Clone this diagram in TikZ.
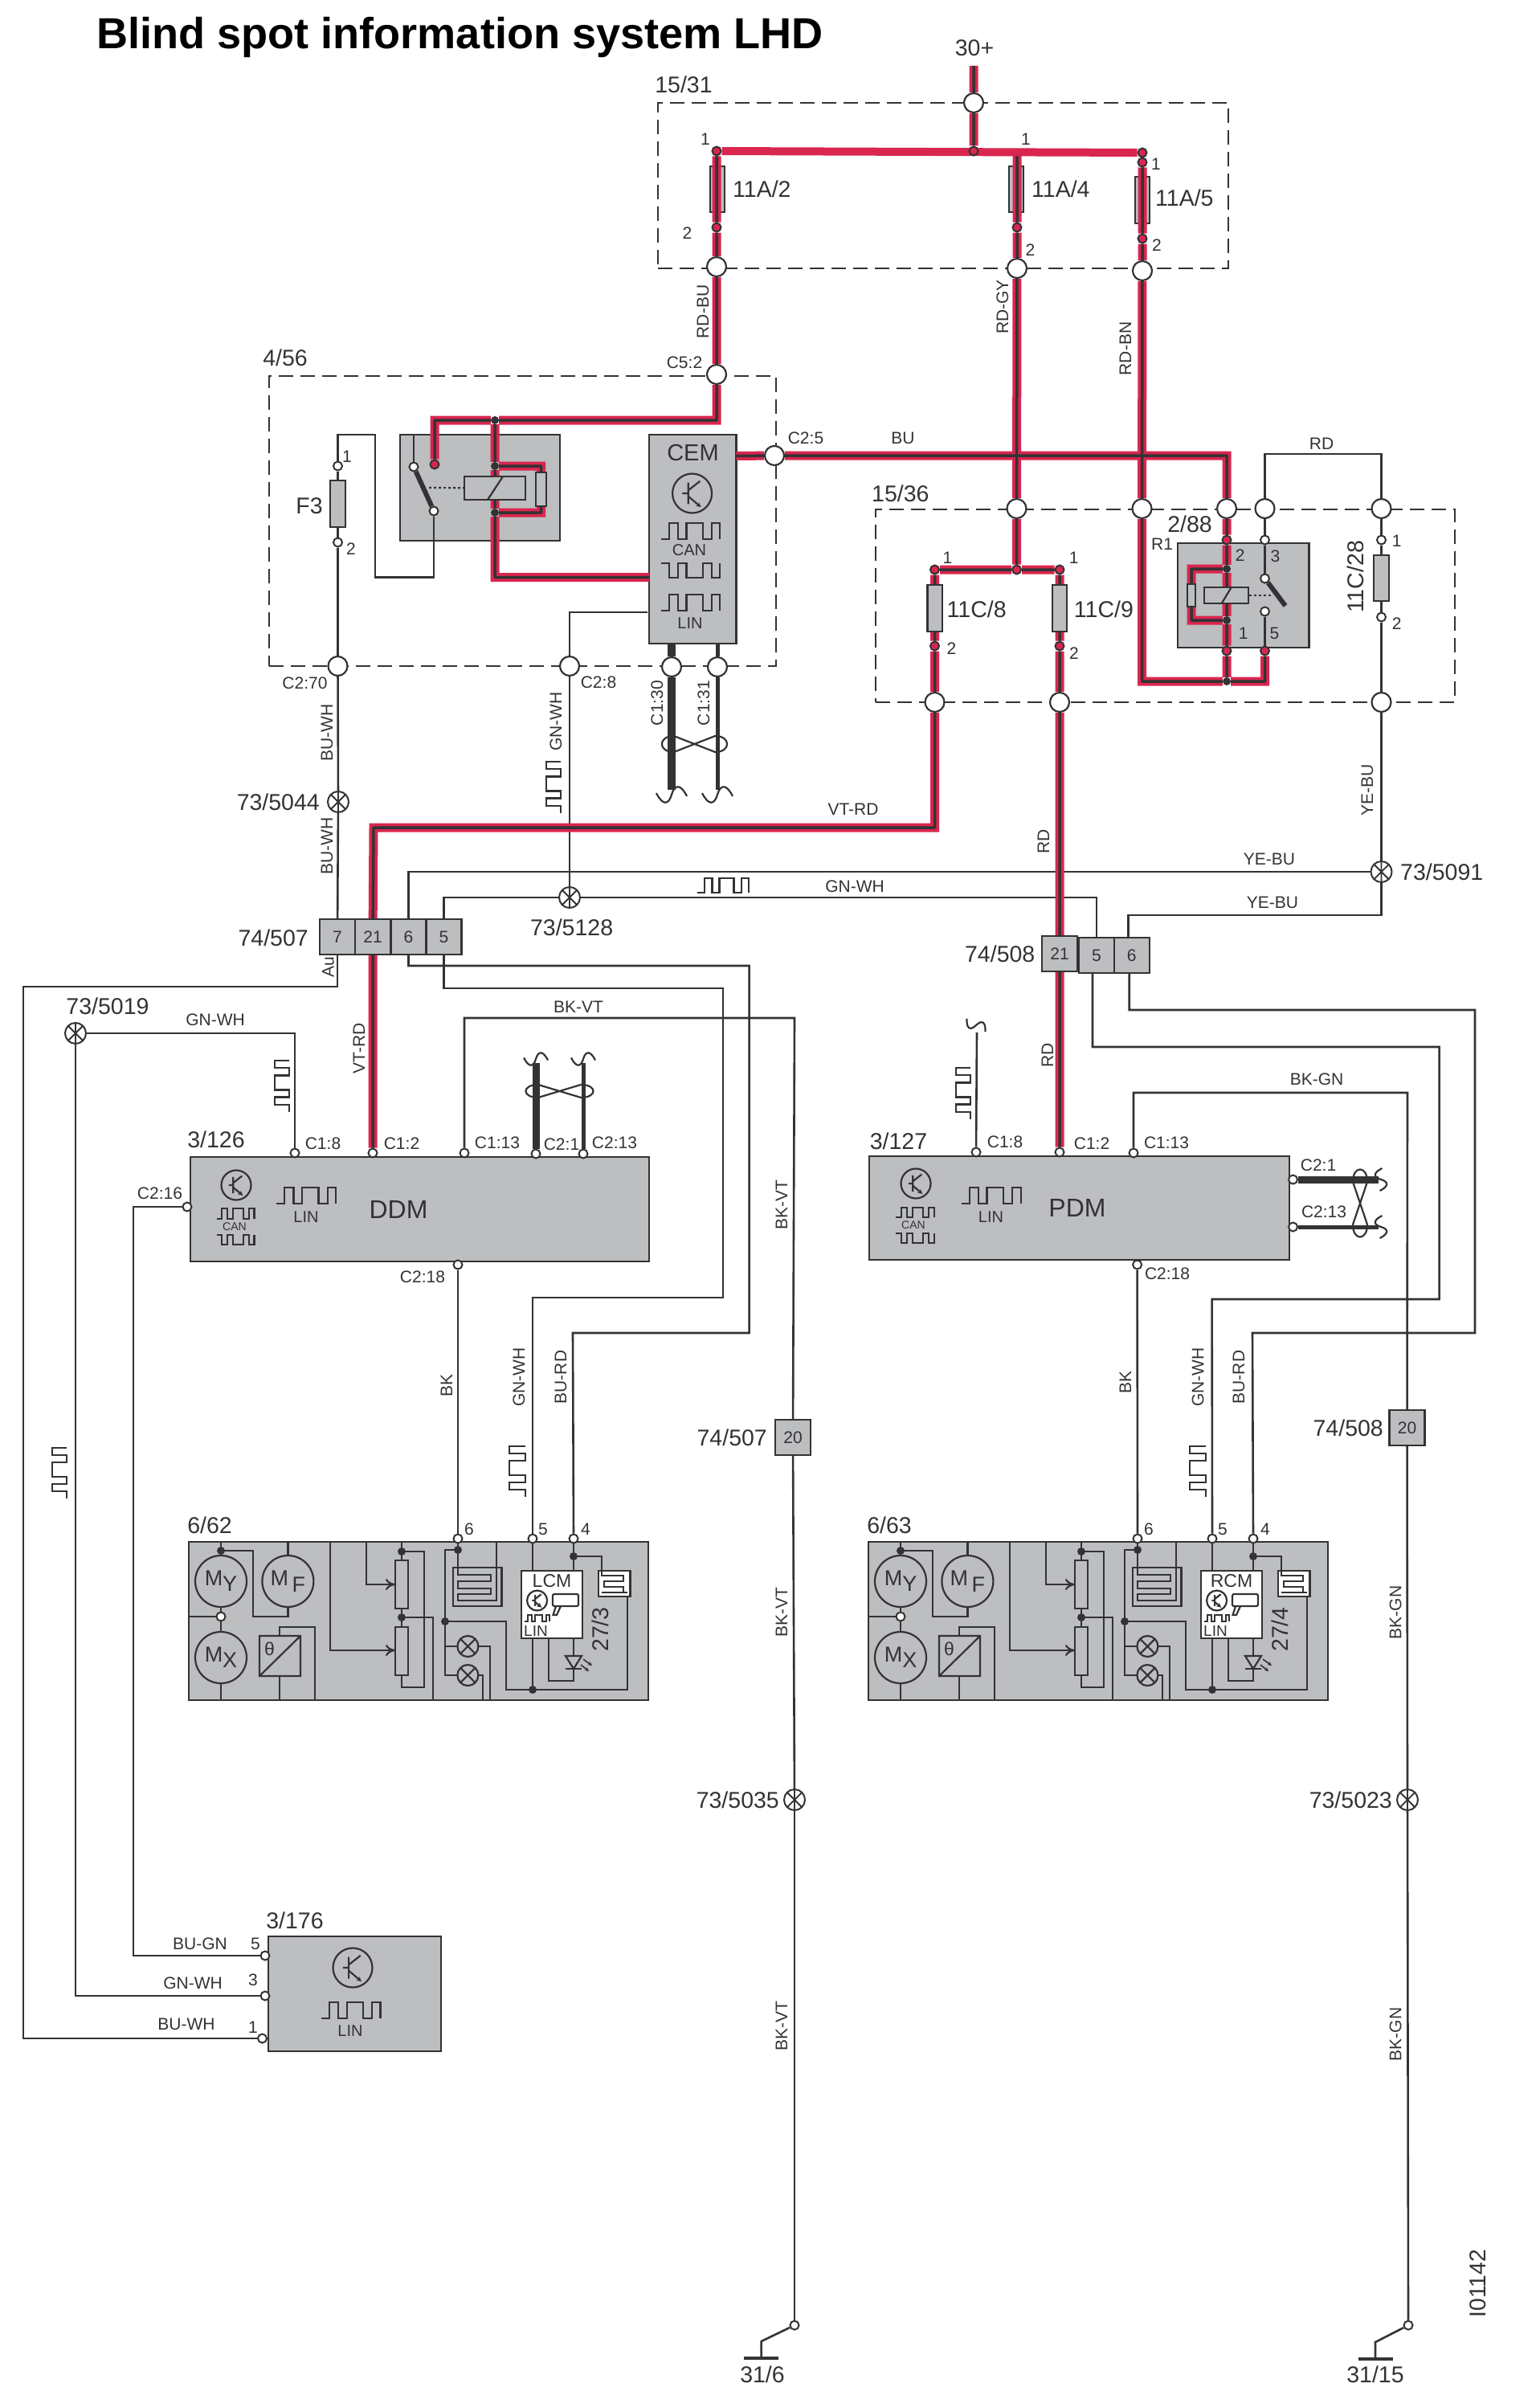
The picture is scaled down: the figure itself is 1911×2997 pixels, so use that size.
\documentclass[tikz,border=0pt]{standalone}
\usepackage{fontspec}
\setmainfont{Liberation Sans}
\usetikzlibrary{arrows, arrows.meta}
\usetikzlibrary{calc}
\definecolor{wirecore}{RGB}{51,51,53}
\definecolor{wirered}{RGB}{217,38,78}
\definecolor{boxgray}{RGB}{188,190,192}
\pgfdeclarelayer{boxes}
\pgfdeclarelayer{wires}
\pgfsetlayers{boxes,wires,main}
\tikzset{
  thinwire/.style={draw=wirecore, line width=2.6pt},
  symline/.style={draw=wirecore, line width=2.2pt},
  redwire/.style={draw=wirecore, line width=3.5pt, line join=round, preaction={draw=wirered, line width=11pt}},
  busline/.style={draw=wirered, line width=10pt},
  heavywire/.style={draw=wirecore, line width=9pt},
  mediumwire/.style={draw=wirecore, line width=5pt},
  oval/.style={circle, draw=wirecore, fill=white, line width=2.2pt, inner sep=0pt, minimum size=24pt},
  pin/.style={circle, draw=wirecore, fill=white, line width=2pt, inner sep=0pt, minimum size=11pt},
  redpin/.style={pin, fill=wirered},
  darkdot/.style={circle, fill=wirecore, inner sep=0pt, minimum size=10pt},
  jointmark/.style={circle, draw=wirecore, fill=white, line width=2pt, inner sep=0pt, minimum size=26pt,
    path picture={\draw[wirecore, line width=1.8pt]
      (path picture bounding box.north) -- (path picture bounding box.south)
      (path picture bounding box.north west) -- (path picture bounding box.south east)
      (path picture bounding box.north east) -- (path picture bounding box.south west);}},
  dashbox/.style={draw=wirecore, line width=2.4pt, dash pattern=on 18pt off 9pt, inner sep=0pt, outer sep=0pt, anchor=north west},
  graybox/.style={draw=wirecore, fill=boxgray, line width=2.6pt, inner sep=0pt, outer sep=0pt, anchor=north west},
  part/.style={draw=wirecore, fill=boxgray, line width=2.4pt, inner sep=0pt},
  cell/.style={part, minimum width=44pt, minimum height=44pt, font=\fontsize{21}{24}\selectfont, text=wirecore},
  lbl/.style={font=\fontsize{21}{24}\selectfont, text=wirecore, inner sep=0pt},
  tag/.style={font=\fontsize{28.5}{32}\selectfont, text=wirecore, inner sep=0pt},
  minilbl/.style={font=\fontsize{14}{16}\selectfont, text=wirecore, inner sep=0pt},
  motor/.style={circle, draw=wirecore, line width=2.2pt, inner sep=0pt, minimum size=64pt, font=\fontsize{27}{30}\selectfont, text=wirecore},
  transistor/.pic={
    \draw[symline] (0,0) circle [radius=1];
    \draw[symline] (-.2,-.55) -- (-.2,.55) (-.5,0) -- (-.2,0) (-.2,-.15) -- (.4,-.62);
    \draw[symline, -{Stealth[length=6pt,width=6pt]}] (-.2,.15) -- (.45,.7);
  },
  pulsewave/.pic={
    \draw[symline] (0,1) -- (.14,1) -- (.14,0) -- (.29,0) -- (.29,1) -- (.43,1) -- (.43,0) -- (.71,0) -- (.71,1) -- (.86,1) -- (.86,0) -- (1,0) -- (1,1);
  },
  cableend/.pic={
    \draw[symline] (-1,-.1) .. controls (-.6,.7) and (-.2,.7) .. (0,0) .. controls (.2,-.7) and (.6,-.7) .. (1,.1);
  },
  twistmark/.pic={
    \draw[symline] (.05,-1) -- (.95,1) (.05,1) -- (.95,-1);
    \draw[symline] (.05,-1) .. controls (-.3,-1) and (-.3,1) .. (.05,1);
    \draw[symline] (.95,-1) .. controls (1.3,-1) and (1.3,1) .. (.95,1);
  },
  pics/mirrorunit/.style n args={3}{code={
    \node[graybox, minimum width=572pt, minimum height=197pt] (-body) at (235,1919) {};
    \draw[symline] (275,1919) -- (275,1936) (275,2000) -- (275,2031) (275,2095) -- (275,2116);
    \draw[symline] (275,1930) -- (315,1930) -- (315,2012) -- (358.4,2012) -- (358.4,2000);
    \draw[symline] (358.4,1919) -- (358.4,1936);
    \draw[symline] (235,2012) -- (275,2012);
    \draw[symline] (348,2036) -- (348,2025) -- (392,2025) -- (392,2116);
    \draw[symline] (348,2086) -- (348,2116);
    \draw[symline] (323,2036) rectangle (374,2086) (323,2086) -- (374,2036);
    \draw[symline, -{To[length=12pt,width=14pt]}] (410.6,1919) -- (410.6,2054) -- (492,2054);
    \draw[symline, -{To[length=12pt,width=14pt]}] (456,1919) -- (456,1972) -- (492,1972);
    \draw[symline] (500,1919) -- (500,1942) (500,1931) -- (528,1931) -- (528,2100) -- (500,2100) -- (500,2085);
    \draw[symline] (500,2002) -- (500,2025) (500,2013) -- (539,2013) -- (539,2116);
    \draw[symline] (492,1942) rectangle (508,2002) (492,2025) rectangle (508,2085);
    \draw[symline] (564,1951) rectangle (624.5,1999);
    \draw[symline] (570,1919) -- (570,1960) -- (611,1960) -- (611,1968) -- (570,1968) -- (570,1976.7) -- (611,1976.7) -- (611,1984) -- (570,1984) -- (570,1992) -- (618,1992) -- (618,1919);
    \draw[symline] (570,1929) -- (554,1929) -- (554,2085) -- (569.4,2085) (554,2049) -- (569.4,2049);
    \draw[symline] (554,2018) -- (630,2018) -- (630,2103) -- (781,2103) -- (781,1982);
    \draw[symline] (595.4,2049) -- (610,2049) -- (610,2116) (595.4,2085) -- (601,2085) -- (601,2116);
    \draw[symline, fill=white] (745,1955) rectangle (784.5,1987);
    \draw[symline] (714,1937) -- (749,1937) -- (749,1961) -- (776,1961) -- (776,1968) -- (752,1968) -- (752,1975) -- (776,1975) -- (776,1982) -- (749,1982) (776,1982) -- (781,1982);
    \draw[symline] (663,1919) -- (663,2103) (714,1919) -- (714,1955);
    \draw[symline, fill=white] (649,1955) rectangle (725,2039);
    \draw[symline] (683,2039) -- (683,2092) -- (714,2092) -- (714,2039);
    \draw[symline, fill=boxgray] (704,2061) -- (724,2061) -- (714,2077) -- cycle;
    \draw[symline] (704,2077) -- (724,2077);
    \draw[wirecore, line width=1.6pt, -{Stealth[length=5pt,width=5pt]}] (726,2065) -- (737,2073);
    \draw[wirecore, line width=1.6pt, -{Stealth[length=5pt,width=5pt]}] (723,2072) -- (733,2080);
    \draw[symline, fill=white, rounded corners=2pt] (688,1984) rectangle (720,1999);
    \draw[symline] (692,1999) -- (688.5,2010) -- (693,2010) -- (698,1999);
    \pic[scale=12.5] at (668.6,1992) {transistor};
    \pic[xscale=31,yscale=8] at (653,2010) {pulsewave};
    \node[circle, symline, inner sep=0pt, minimum size=26pt] (-lampa) at (582.4,2049) {};
    \draw[symline] (573.2,2039.8) -- (591.6,2058.2) (573.2,2058.2) -- (591.6,2039.8);
    \node[circle, symline, inner sep=0pt, minimum size=26pt] (-lampb) at (582.4,2085) {};
    \draw[symline] (573.2,2075.8) -- (591.6,2094.2) (573.2,2094.2) -- (591.6,2075.8);
    \node[motor] (-my) at (275,1968) {M\raisebox{-7pt}{Y}};
    \node[motor] (-mf) at (358.4,1968) {M\,\raisebox{-8pt}{F}};
    \node[motor] (-mx) at (275,2063) {M\raisebox{-7pt}{X}};
    \node[lbl, font=\fontsize{23}{24}\selectfont] (-theta) at (335.5,2052) {θ};
    \node[pin] (-mid) at (275,2012) {};
    \node[darkdot] (-d1) at (275,1930) {};
    \node[darkdot] (-d2) at (500,1931) {};
    \node[darkdot] (-d3) at (500,2013) {};
    \node[darkdot] (-d4) at (570,1929) {};
    \node[darkdot] (-d5) at (554,2018) {};
    \node[darkdot] (-d6) at (714,1937) {};
    \node[darkdot] (-d7) at (663,2103) {};
    \node[pin] (-pin6) at (570,1915) {};
    \node[pin] (-pin5) at (663,1915) {};
    \node[pin] (-pin4) at (714,1915) {};
    \node[lbl] (-t6) at (584,1903) {6};
    \node[lbl] (-t5) at (676,1903) {5};
    \node[lbl] (-t4) at (729,1903) {4};
    \node[tag] (-unit) at (261,1898) {#1};
    \node[lbl, font=\fontsize{23}{24}\selectfont] (-mod) at (687,1968) {#2};
    \node[lbl, font=\fontsize{19}{20}\selectfont] (-lin) at (667,2030) {LIN};
    \node[tag, rotate=90] (-num) at (747,2028) {#3};
  }},
}
\begin{document}
\begin{tikzpicture}[x=1pt, y=-1pt]
  \useasboundingbox (0,0) rectangle (1911,2997);

  \begin{pgfonlayer}{boxes}
    \node[dashbox, minimum width=710pt, minimum height=206pt] (frameA) at (819,128) {};
    \node[dashbox, minimum width=631pt, minimum height=361pt] (frameB) at (335,468) {};
    \node[dashbox, minimum width=721pt, minimum height=240pt] (frameC) at (1090,634) {};
    \node[graybox, minimum width=199pt, minimum height=132pt] (relayA) at (498,541) {};
    \node[graybox, minimum width=108.5pt, minimum height=260pt] (cem) at (808,541) {};
    \node[graybox, minimum width=163.7pt, minimum height=130pt] (relayB) at (1466,676) {};
    \node[graybox, minimum width=571pt, minimum height=130pt] (ddm) at (237,1440) {};
    \node[graybox, minimum width=523pt, minimum height=129pt] (pdm) at (1082,1439) {};
    \node[graybox, minimum width=215pt, minimum height=143pt] (lin) at (334,2410) {};
    \node[part, minimum width=18pt, minimum height=57pt] (fuseAa) at (893,235.5) {};
    \node[part, minimum width=18pt, minimum height=57pt] (fuseAb) at (1265,235.5) {};
    \node[part, minimum width=18pt, minimum height=58pt] (fuseAc) at (1422,249) {};
  \end{pgfonlayer}

  \node[part, minimum width=18.5pt, minimum height=58pt] (fuseF) at (420.5,627) {};
  \node[part, minimum width=18.5pt, minimum height=58pt] (fuseCa) at (1163.8,757) {};
  \node[part, minimum width=18.5pt, minimum height=58pt] (fuseCb) at (1319,757) {};
  \node[part, minimum width=19pt, minimum height=57pt] (fuseCc) at (1719.5,719.5) {};
  \node[part, minimum width=76pt, minimum height=29pt] (coilA) at (616,607.5) {};
  \node[part, minimum width=13pt, minimum height=42pt] (resA) at (673.5,609) {};
  \node[part, minimum width=55pt, minimum height=20pt] (coilB) at (1526.7,741) {};
  \node[part, minimum width=10pt, minimum height=28pt] (resB) at (1483,741) {};

  \node[oval] (nTop) at (1212,128) {};
  \node[oval] (nAa) at (892,332) {};
  \node[oval] (nAb) at (1266,334) {};
  \node[oval] (nAc) at (1422,337) {};
  \node[oval] (nC52) at (892,466) {};
  \node[oval] (nC25) at (964,567) {};
  \node[oval] (nC270) at (420.5,829) {};
  \node[oval] (nC28) at (709,829) {};
  \node[oval] (nC130) at (836,830) {};
  \node[oval] (nC131) at (893,830) {};
  \node[oval] (nBa) at (1265.5,633) {};
  \node[oval] (nBb) at (1421.5,633) {};
  \node[oval] (nBc) at (1527,633) {};
  \node[oval] (nBd) at (1574.5,633) {};
  \node[oval] (nBe) at (1719.5,633) {};
  \node[oval] (nCa) at (1163.5,874) {};
  \node[oval] (nCb) at (1319,874) {};
  \node[oval] (nCc) at (1719.5,874) {};

  \node[redpin] (rAa) at (892,188) {};
  \node[redpin] (rAb) at (1212,188) {};
  \node[redpin] (rAc) at (1422,190) {};
  \node[redpin] (rAd) at (1422,202) {};
  \node[redpin] (rBa) at (892,283) {};
  \node[redpin] (rBb) at (1266,283) {};
  \node[redpin] (rBc) at (1422,297) {};
  \node[redpin] (rRel) at (541,578) {};
  \node[redpin] (rCa) at (1163.5,709) {};
  \node[redpin] (rCb) at (1265.5,709) {};
  \node[redpin] (rCc) at (1319,709) {};
  \node[redpin] (rDa) at (1163.5,804) {};
  \node[redpin] (rDb) at (1319,804) {};
  \node[redpin] (rEa) at (1527,672) {};
  \node[redpin] (rEb) at (1527,810) {};
  \node[redpin] (rEc) at (1574.5,810) {};
  \node[darkdot] (jAa) at (616,523) {};
  \node[darkdot] (jAb) at (616,580) {};
  \node[darkdot] (jAc) at (616,638) {};
  \node[darkdot] (jBa) at (1527,708) {};
  \node[darkdot] (jBb) at (1527,772) {};
  \node[darkdot] (jBc) at (1527,848) {};

  \node[pin] (pFa) at (420.5,580) {};
  \node[pin] (pFb) at (420.5,675) {};
  \node[pin] (swAa) at (515,581) {};
  \node[pin] (swAb) at (540,636) {};
  \node[pin] (swBa) at (1574.5,672) {};
  \node[pin] (swBb) at (1574.5,720) {};
  \node[pin] (swBc) at (1574.5,761) {};
  \node[pin] (pFCa) at (1719.5,672) {};
  \node[pin] (pFCb) at (1719.5,768) {};
  \node[pin] (pDa) at (367,1435) {};
  \node[pin] (pDb) at (464,1435) {};
  \node[pin] (pDc) at (578,1435) {};
  \node[pin] (pDd) at (667,1436) {};
  \node[pin] (pDe) at (726,1436) {};
  \node[pin] (pDf) at (233,1502) {};
  \node[pin] (pDg) at (570,1574) {};
  \node[pin] (pPa) at (1215,1434) {};
  \node[pin] (pPb) at (1319,1434) {};
  \node[pin] (pPc) at (1411,1435) {};
  \node[pin] (pPd) at (1609.5,1468) {};
  \node[pin] (pPe) at (1609.5,1527) {};
  \node[pin] (pPf) at (1415.6,1574) {};
  \node[pin] (pLa) at (330,2434) {};
  \node[pin] (pLb) at (330,2484) {};
  \node[pin] (pLc) at (326.5,2537) {};
  \node[pin] (endA) at (989,2894) {};
  \node[pin] (endB) at (1753,2894) {};

  \node[jointmark] (j5044) at (421,998) {};
  \node[jointmark] (j5128) at (709,1117) {};
  \node[jointmark] (j5091) at (1719.5,1085) {};
  \node[jointmark] (j5019) at (94,1286) {};
  \node[jointmark] (j5035) at (989,2240) {};
  \node[jointmark] (j5023) at (1752,2240) {};

  \node[cell] (cLa) at (420,1166) {7};
  \node[cell] (cLb) at (464,1166) {21};
  \node[cell] (cLc) at (508.5,1166) {6};
  \node[cell] (cLd) at (552.5,1166) {5};
  \node[cell] (cRa) at (1319,1187) {21};
  \node[cell] (cRb) at (1365,1189) {5};
  \node[cell] (cRc) at (1408.7,1189) {6};
  \node[cell] (cBa) at (987,1789) {20};
  \node[cell] (cBb) at (1751.5,1777) {20};

  \pic (dm) at (0,0) {mirrorunit={6/62}{LCM}{27/3}};
  \pic (pm) at (846,0) {mirrorunit={6/63}{RCM}{27/4}};

  \coordinate (feed) at (1212,82);
  \coordinate (busJoin) at (1266,188);
  \coordinate (cemRed) at (808,718.5);
  \coordinate (cemOut) at (916.5,567.5);
  \coordinate (cemLin) at (806,762);
  \coordinate (cemCa) at (836,801);
  \coordinate (cemCb) at (893,801);
  \coordinate (redCorner) at (465,1030);
  \coordinate (fLoopA) at (467,541);
  \coordinate (fLoopB) at (540,718.5);
  \coordinate (relTop) at (515,541);
  \coordinate (leverA) at (1600,754);
  \coordinate (dashA) at (534,607);
  \coordinate (dashB) at (1585,741);
  \coordinate (topRD) at (1719.5,565);
  \coordinate (leftDrop) at (29,1228);
  \coordinate (kDd) at (932.6,1202);
  \coordinate (kDe) at (713,1659);
  \coordinate (kDa) at (900,1230);
  \coordinate (kDb) at (663,1615);
  \coordinate (kRa) at (1791.6,1303);
  \coordinate (kRb) at (1508.6,1617);
  \coordinate (kRc) at (1836,1257);
  \coordinate (kRd) at (1559,1659);
  \coordinate (kYe) at (1719.5,1139);
  \coordinate (kVt) at (989,1267);
  \coordinate (kGn) at (1752,1360);
  \coordinate (kCan) at (166,1502);
  \coordinate (brkA) at (836,983);
  \coordinate (brkB) at (893,983);
  \coordinate (brkC) at (667,1323);
  \coordinate (brkD) at (726,1323);
  \coordinate (brkE) at (1716,1468);
  \coordinate (brkF) at (1716,1527);
  \coordinate (brkG) at (1216,1285);
  \coordinate (hookA) at (947.6,2914);
  \coordinate (gndA) at (947.6,2935);
  \coordinate (gndAa) at (926,2935);
  \coordinate (gndAb) at (969,2935);
  \coordinate (hookB) at (1712,2915);
  \coordinate (gndB) at (1712,2936);
  \coordinate (gndBa) at (1691,2936);
  \coordinate (gndBb) at (1733.5,2936);

  \begin{pgfonlayer}{wires}
    \draw[thinwire] (cemLin) -| (nC28);
    \draw[thinwire] (nC28) -- (j5128);
    \draw[thinwire] (j5128) -| (cLd.north);
    \draw[thinwire] (j5128) -| (cRb.north);
    \draw[thinwire] (cLc.north) |- (j5091);
    \draw[thinwire] (nCc) -- (j5091);
    \draw[thinwire] (j5091) -- (kYe) -| ([xshift=-4pt]cRc.north);
    \draw[thinwire] (pFCb) -- (nCc);
    \draw[thinwire] (nBe) -- (pFCa);
    \draw[thinwire] (pFCa) -- (pFCb);
    \draw[thinwire] (nBd) |- (topRD) -- (nBe);
    \draw[thinwire] (nBd) -- (swBa);
    \draw[thinwire] (swBa) -- (swBb);
    \draw[thinwire] (swBc) -- (rEc);
    \draw[thinwire] (nC270) -- (j5044);
    \draw[thinwire] (j5044) -- (cLa);
    \draw[thinwire] (pFa) -- (pFb);
    \draw[thinwire] (pFb) -- (nC270);
    \draw[thinwire] (pFa) |- (fLoopA) |- (fLoopB) -- (swAb);
    \draw[thinwire] (relTop) -- (swAa);
    \draw[symline, line width=6pt] (swAa) -- (swAb);
    \draw[symline, line width=6pt] (swBb) -- (leverA);
    \draw[symline, dashed] (dashA) -- (coilA);
    \draw[symline, dashed] (coilB) -- (dashB);
    \draw[thinwire] (cLa) |- (leftDrop) |- (pLc);
    \draw[thinwire] (pDa) |- (j5019);
    \draw[thinwire] (j5019) |- (pLb);
    \draw[thinwire] (pDf) -- (kCan) |- (pLa);
    \draw[thinwire] (pDc) |- (kVt) -- (cBa);
    \draw[thinwire] (cBa) -- (j5035);
    \draw[thinwire] (j5035) -- (endA);
    \draw[thinwire] (pPc) |- (kGn) -- (cBb);
    \draw[thinwire] (cBb) -- (j5023);
    \draw[thinwire] (j5023) -- (endB);
    \draw[thinwire] (cLc.south) |- (kDd) |- (kDe) -- (dm-pin4);
    \draw[thinwire] (cLd.south) |- (kDa) |- (kDb) -- (dm-pin5);
    \draw[thinwire] (pDg) -- (dm-pin6);
    \draw[thinwire] ([xshift=-5pt]cRb.south) |- (kRa) |- (kRb) -- (pm-pin5);
    \draw[thinwire] ([xshift=-3pt]cRc.south) |- (kRc) |- (kRd) -- (pm-pin4);
    \draw[thinwire] (pPf) -- (pm-pin6);
    \draw[thinwire] (pPa) -- (brkG);
    \draw[thinwire] (endA) -- (hookA) -- (gndA);
    \draw[thinwire, line width=3.2pt] (gndAa) -- (gndAb);
    \draw[thinwire] (endB) -- (hookB) -- (gndB);
    \draw[thinwire, line width=3.2pt] (gndBa) -- (gndBb);
    \draw[heavywire, line width=10pt] (cemCa) -- (nC130);
    \draw[heavywire, line width=10pt] (nC130) -- (brkA);
    \draw[mediumwire] (cemCb) -- (nC131);
    \draw[mediumwire] (nC131) -- (brkB);
    \draw[heavywire] (pDd) -- (brkC);
    \draw[mediumwire] (pDe) -- (brkD);
    \draw[heavywire] (pPd) -- (brkE);
    \draw[mediumwire] (pPe) -- (brkF);
    \draw[redwire]
      (feed) -- (nTop) (nTop) -- (rAb)
      (rAa) -- (rBa) (rBa) -- (nAa) (nAa) -- (nC52)
      (nC52) |- (jAa) (jAa) -| (rRel)
      (jAa) -- (jAb) (jAb) -- (jAc) (jAc) |- (cemRed)
      (jAb) -| (resA) (jAc) -| (resA)
      (busJoin) -- (rBb) (rBb) -- (nAb) (nAb) -- (nBa) (nBa) -- (rCb)
      (rAd) -- (rBc) (rBc) -- (nAc) (nAc) -- (nBb)
      (cemOut) -- (nC25) (nC25) -| (nBc)
      (nBc) -- (rEa) (rEa) -- (jBa) (jBa) -- (jBb) (jBb) -- (rEb) (rEb) -- (jBc)
      (jBa) -| (resB) (jBb) -| (resB)
      (nBb) |- (jBc) (jBc) -| (rEc)
      (rCa) -- (rCb) (rCb) -- (rCc)
      (rCa) -- (rDa) (rDa) -- (nCa) (nCa) |- (redCorner) -- (cLb)
      (rCc) -- (rDb) (rDb) -- (nCb) (nCb) -- (cRa)
      (cLb) -- (pDb) (cRa) -- (pPb);
    \draw[busline] (rAa) -- (rAc);
  \end{pgfonlayer}

  \draw[symline] (607,622) -- (626,593);
  \draw[symline] (1520.7,751) -- (1532.7,731);

  \pic[scale=24.5] at (861.6,614) {transistor};
  \pic[xscale=73,yscale=20] at (823,651) {pulsewave};
  \pic[xscale=73,yscale=-18] at (823,719) {pulsewave};
  \pic[xscale=73,yscale=20] at (823,740) {pulsewave};
  \pic[scale=18.5] at (294,1475) {transistor};
  \pic[xscale=47,yscale=13] at (269.5,1504) {pulsewave};
  \pic[xscale=47,yscale=-12] at (269.5,1549) {pulsewave};
  \pic[xscale=74,yscale=20] at (344,1478) {pulsewave};
  \pic[scale=18.5] at (1140,1473) {transistor};
  \pic[xscale=48,yscale=12] at (1115,1503) {pulsewave};
  \pic[xscale=48,yscale=-12] at (1115,1547) {pulsewave};
  \pic[xscale=74,yscale=20] at (1196.6,1478) {pulsewave};
  \pic[scale=24.5] at (439,2449) {transistor};
  \pic[xscale=73.5,yscale=20] at (400,2492) {pulsewave};
  \pic[xscale=64,yscale=18] at (868,1093) {pulsewave};
  \pic[rotate=90,xscale=64,yscale=18] at (680,1012) {pulsewave};
  \pic[rotate=90,xscale=64,yscale=18] at (342,1384) {pulsewave};
  \pic[rotate=90,xscale=64,yscale=18] at (1190,1393) {pulsewave};
  \pic[rotate=90,xscale=63,yscale=20] at (634,1863) {pulsewave};
  \pic[rotate=90,xscale=63,yscale=20] at (1481,1863) {pulsewave};
  \pic[rotate=90,xscale=63,yscale=18] at (65,1865) {pulsewave};
  \pic[scale=19] at (836,989) {cableend};
  \pic[scale=19] at (893,989) {cableend};
  \pic[scale=15] at (667,1318) {cableend};
  \pic[scale=15] at (726,1318) {cableend};
  \pic[rotate=90,scale=14] at (1719,1468) {cableend};
  \pic[rotate=90,scale=14] at (1719,1527) {cableend};
  \pic[rotate=-30,scale=14] at (1215,1276) {cableend};
  \pic[xscale=57,yscale=10] at (836,926) {twistmark};
  \pic[xscale=59,yscale=8] at (667,1358) {twistmark};
  \pic[rotate=-90,xscale=59,yscale=9] at (1693,1468) {twistmark};

  \node[font=\bfseries\fontsize{54.1}{60}\selectfont, anchor=west, inner sep=0pt] (title) at (120,47) {Blind spot information system LHD};
  \node[tag] (t30) at (1213,60) {30+};
  \node[tag] (t1531) at (851,105) {15/31};
  \node[tag] (t456) at (355,445) {4/56};
  \node[tag] (t1536) at (1120.8,614) {15/36};
  \node[tag] (t288) at (1481,652) {2/88};
  \node[lbl] (tR1) at (1446.6,677) {R1};
  \node[tag, anchor=west] (tAa) at (912,235) {11A/2};
  \node[tag, anchor=west] (tAb) at (1284,235) {11A/4};
  \node[tag, anchor=west] (tAc) at (1438,246) {11A/5};
  \node[tag, anchor=west] (tCa) at (1178.5,758) {11C/8};
  \node[tag, anchor=west] (tCb) at (1336.7,758) {11C/9};
  \node[tag, rotate=90] (tCc) at (1687,718) {11C/28};
  \node[tag] (tF3) at (385,630) {F3};
  \node[lbl] (nA1) at (878,173) {1};
  \node[lbl] (nA2) at (855.5,290) {2};
  \node[lbl] (nB1) at (1277,173) {1};
  \node[lbl] (nB2) at (1282.5,311) {2};
  \node[lbl] (nD1) at (1439,204) {1};
  \node[lbl] (nD2) at (1440,305) {2};
  \node[lbl] (nF1) at (432,568.6) {1};
  \node[lbl] (nF2) at (437,683.6) {2};
  \node[lbl] (nG1) at (1179.5,694) {1};
  \node[lbl] (nG2) at (1184.5,807) {2};
  \node[lbl] (nH1) at (1336.7,694) {1};
  \node[lbl] (nH2) at (1337,813) {2};
  \node[lbl] (nJ2) at (1543.6,691) {2};
  \node[lbl] (nJ3) at (1587.4,692) {3};
  \node[lbl] (nJ1) at (1547.6,788) {1};
  \node[lbl] (nJ5) at (1586.4,788) {5};
  \node[lbl] (nK1) at (1738.6,673) {1};
  \node[lbl] (nK2) at (1738.6,776) {2};
  \node[lbl, rotate=90] (wRDBU) at (875,388) {RD-BU};
  \node[lbl, rotate=90] (wRDGY) at (1248,382) {RD-GY};
  \node[lbl, rotate=90] (wRDBN) at (1401,434) {RD-BN};
  \node[lbl] (tC52) at (852,451) {C5:2};
  \node[lbl] (tC25) at (1003,545) {C2:5};
  \node[lbl] (wBU) at (1124,545) {BU};
  \node[lbl] (wRD) at (1645,552) {RD};
  \node[font=\fontsize{29}{32}\selectfont, text=wirecore, inner sep=0pt] (tCEM) at (862.5,564) {CEM};
  \node[lbl, font=\fontsize{20}{22}\selectfont] (tCAN) at (858,685) {CAN};
  \node[lbl, font=\fontsize{20}{22}\selectfont] (tLINa) at (859,776) {LIN};
  \node[lbl] (tC270) at (379.5,850) {C2:70};
  \node[lbl] (tC28) at (745,849) {C2:8};
  \node[lbl, rotate=90] (tC130) at (818,875) {C1:30};
  \node[lbl, rotate=90] (tC131) at (876,875) {C1:31};
  \node[lbl, rotate=90] (wBUWHa) at (407,912) {BU-WH};
  \node[lbl, rotate=90] (wGNWHa) at (692,898) {GN-WH};
  \node[tag, anchor=east] (t5044) at (398,998) {73/5044};
  \node[lbl, rotate=90] (wBUWHb) at (407,1053) {BU-WH};
  \node[lbl, rotate=90] (wAu) at (408.5,1204) {Au};
  \node[tag, anchor=east] (t507a) at (384,1167) {74/507};
  \node[tag] (t5128) at (711.6,1154) {73/5128};
  \node[lbl] (wVTRDa) at (1062,1007) {VT-RD};
  \node[lbl] (wGNWHb) at (1064,1103) {GN-WH};
  \node[lbl, rotate=90] (wRDa) at (1299,1047) {RD};
  \node[lbl, rotate=90] (wYEBUa) at (1702,983) {YE-BU};
  \node[lbl] (wYEBUb) at (1580,1069) {YE-BU};
  \node[lbl] (wYEBUc) at (1584,1123) {YE-BU};
  \node[tag, anchor=west] (t5091) at (1743,1085) {73/5091};
  \node[tag, anchor=east] (t508a) at (1288.5,1187) {74/508};
  \node[tag] (t5019) at (134,1252) {73/5019};
  \node[lbl] (wGNWHc) at (268,1269) {GN-WH};
  \node[lbl] (wBKVTa) at (720,1253) {BK-VT};
  \node[lbl, rotate=90] (wVTRDb) at (447,1305) {VT-RD};
  \node[lbl, rotate=90] (wRDb) at (1304,1313) {RD};
  \node[lbl] (wBKGNa) at (1639,1343) {BK-GN};
  \node[tag] (t3126) at (269,1418) {3/126};
  \node[lbl] (tDa) at (402,1423) {C1:8};
  \node[lbl] (tDb) at (500,1423) {C1:2};
  \node[lbl] (tDc) at (619,1422) {C1:13};
  \node[lbl] (tDd) at (699,1424) {C2:1};
  \node[lbl] (tDe) at (765,1422) {C2:13};
  \node[lbl] (tDf) at (199,1485) {C2:16};
  \node[lbl] (tDg) at (526,1589) {C2:18};
  \node[minilbl] (tCANd) at (292,1527) {CAN};
  \node[lbl, font=\fontsize{20}{22}\selectfont] (tLINd) at (381,1515) {LIN};
  \node[font=\fontsize{32}{34}\selectfont, text=wirecore, inner sep=0pt] (tDDM) at (496,1505) {DDM};
  \node[tag] (t3127) at (1118.5,1420) {3/127};
  \node[lbl] (tPa) at (1251,1421) {C1:8};
  \node[lbl] (tPb) at (1359,1423) {C1:2};
  \node[lbl] (tPc) at (1452,1422) {C1:13};
  \node[lbl] (tPd) at (1641,1450) {C2:1};
  \node[lbl] (tPe) at (1648,1508) {C2:13};
  \node[lbl] (tPf) at (1453,1585) {C2:18};
  \node[minilbl] (tCANp) at (1137,1525) {CAN};
  \node[lbl, font=\fontsize{20}{22}\selectfont] (tLINp) at (1233.5,1515) {LIN};
  \node[font=\fontsize{32}{34}\selectfont, text=wirecore, inner sep=0pt] (tPDM) at (1341,1503) {PDM};
  \node[lbl, rotate=90] (wBKa) at (556,1724) {BK};
  \node[lbl, rotate=90] (wGNWHd) at (646,1714) {GN-WH};
  \node[lbl, rotate=90] (wBURDa) at (698,1714) {BU-RD};
  \node[lbl, rotate=90] (wBKb) at (1401,1720) {BK};
  \node[lbl, rotate=90] (wGNWHe) at (1491,1714) {GN-WH};
  \node[lbl, rotate=90] (wBURDb) at (1542,1714) {BU-RD};
  \node[lbl, rotate=90] (wBKVTb) at (973,1500) {BK-VT};
  \node[lbl, rotate=90] (wBKVTc) at (973,2007) {BK-VT};
  \node[lbl, rotate=90] (wBKVTd) at (973,2522) {BK-VT};
  \node[lbl, rotate=90] (wBKGNb) at (1737,2007) {BK-GN};
  \node[lbl, rotate=90] (wBKGNc) at (1737,2532) {BK-GN};
  \node[tag, anchor=east] (t507b) at (955,1789) {74/507};
  \node[tag, anchor=east] (t508b) at (1722,1777) {74/508};
  \node[tag, anchor=east] (t5035) at (970,2240) {73/5035};
  \node[tag, anchor=east] (t5023) at (1733,2240) {73/5023};
  \node[tag] (t3176) at (367,2390) {3/176};
  \node[lbl] (wBUGN) at (249,2419) {BU-GN};
  \node[lbl] (wGNWHf) at (240,2468) {GN-WH};
  \node[lbl] (wBUWHc) at (232,2519) {BU-WH};
  \node[lbl] (nL5) at (318,2419) {5};
  \node[lbl] (nL3) at (315,2464) {3};
  \node[lbl] (nL1) at (315,2523) {1};
  \node[lbl, font=\fontsize{20}{22}\selectfont] (tLINl) at (436,2528) {LIN};
  \node[tag] (t316) at (949,2955) {31/6};
  \node[tag] (t3115) at (1712,2955) {31/15};
  \node[tag, rotate=90] (tCode) at (1840,2842) {I01142};
\end{tikzpicture}
\end{document}
